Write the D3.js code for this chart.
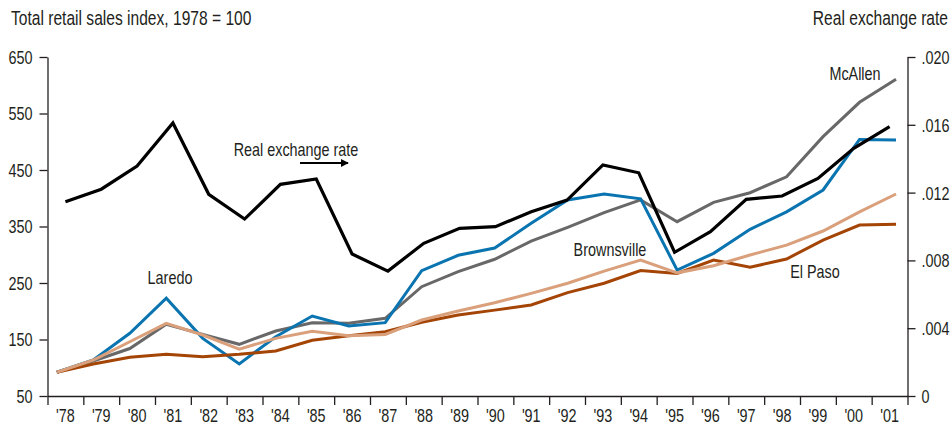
<!DOCTYPE html>
<html>
<head>
<meta charset="utf-8">
<script src="https://cdn.jsdelivr.net/npm/d3@7"></script>
<style>
    body { margin: 0; background: #fff; }
    text { font-family: "Liberation Sans", Arial, sans-serif; fill: #231f20; }
    .axis path, .axis line { stroke: #231f20; stroke-width: 1.3px; }
    .axis text { font-size: 18px; }
    .label { font-size: 18px; }
    .title { font-size: 19.5px; }
    /* condensed look: squeeze glyphs horizontally around an anchor */
    .narrow { transform-box: fill-box; transform: scaleX(0.8); transform-origin: 50% 50%; }
    .narrow.end { transform-origin: 100% 50%; }
    .narrow.start { transform-origin: 0% 50%; }
</style>
</head>
<body>
<div id="chart"></div>
<script>
// values
var years = d3.range(1978, 2002);
var yearLabels = ["'78", "'79", "'80", "'81", "'82", "'83", "'84", "'85", "'86", "'87", "'88", "'89",
    "'90", "'91", "'92", "'93", "'94", "'95", "'96", "'97", "'98", "'99", "'00", "'01"];
var leftTicks = [50, 150, 250, 350, 450, 550, 650];
var rightTicks = [0, .004, .008, .012, .016, .020];

var laredo = [92, 113.7, 161, 223, 152, 106.6, 155, 191.6, 174, 179.8, 271.8, 299, 312, 355.6, 397, 407.5,
    399, 273, 302.5, 345, 376, 414.6, 504, 503];
var mcallen = [92, 112, 134, 177, 159, 141.5, 165, 179.7, 178.6, 187.5, 243.5, 270, 292, 324, 348.5, 374.5,
    397, 358.5, 392.8, 409.8, 438, 509, 569.8, 610.5];
var brownsville = [92, 113.7, 146, 178.6, 158, 133, 152, 164.5, 156.7, 159, 184.5, 200.4, 215, 231.7, 249.5, 271,
    290.7, 268, 280.6, 299.6, 317, 342, 376, 407.5];
var elPaso = [92, 106.6, 118.4, 124, 119.6, 123.8, 129.6, 148.5, 156.7, 163.8, 180.4, 193.4, 202, 211, 233, 249.5,
    272, 267, 290.7, 277.8, 292.5, 326, 352.6, 354];
var exchange = [.01146, .01220, .01357, .01611, .01190, .01044, .01249, .01280, .00838, .00737, .00901, .00989,
    .00999, .01087, .01156, .01363, .01317, .00848, .00969, .01160, .01180, .01284, .01461, .01589];

var width = 952, height = 427;
var margin = {top: 57, right: 44.5, bottom: 31, left: 47.5};

var svg = d3.select("#chart").append("svg")
    .attr("width", width)
    .attr("height", height);

var x = d3.scaleBand()
    .domain(years)
    .range([margin.left, width - margin.right]);

// retail series sit slightly off the band centres in the original
var xRetail = d3.scaleLinear()
    .domain([1978, 2001])
    .range([x(1978) + x.bandwidth() * 0.26, x(2001) + x.bandwidth() * 0.68]);

var yLeft = d3.scaleLinear()
    .domain([50, 650])
    .range([height - margin.bottom, margin.top]);

var yRight = d3.scaleLinear()
    .domain([0, .020])
    .range([height - margin.bottom, margin.top]);

// axes
svg.append("g")
    .attr("class", "axis")
    .attr("transform", "translate(" + margin.left + ",0)")
    .call(d3.axisLeft(yLeft).tickValues(leftTicks).tickSize(8).tickSizeOuter(0).tickPadding(7))
    .selectAll("text").attr("dy", "0.36em").attr("class", "narrow end");

svg.append("g")
    .attr("class", "axis")
    .attr("transform", "translate(" + (width - margin.right) + ",0)")
    .call(d3.axisRight(yRight).tickValues(rightTicks).tickSize(8).tickSizeOuter(0).tickPadding(6)
        .tickFormat(function (d) { return d === 0 ? "0" : d3.format(".3f")(d).replace(/^0/, ""); }))
    .selectAll("text").attr("dy", "0.36em").attr("class", "narrow start");

var xEdges = d3.scaleLinear()
    .domain([1978, 2002])
    .range([x(1978), x(2001) + x.bandwidth()]);

svg.append("g")
    .attr("class", "axis")
    .attr("transform", "translate(0," + (height - margin.bottom) + ")")
    .call(d3.axisBottom(xEdges).tickValues(d3.range(1978, 2003)).tickSize(9).tickSizeOuter(0)
        .tickFormat(""));

svg.append("g")
    .attr("class", "axis")
    .attr("transform", "translate(0," + (height - margin.bottom) + ")")
    .call(d3.axisBottom(x).tickSize(0).tickPadding(13)
        .tickFormat(function (d, i) { return yearLabels[i]; }))
    .call(function (g) { g.select(".domain").remove(); })
    .selectAll("text").attr("class", "narrow");

// lines
var retail = [
    {name: "McAllen", values: mcallen, color: "#686868"},
    {name: "Laredo", values: laredo, color: "#0a74b0"},
    {name: "El Paso", values: elPaso, color: "#a44405"},
    {name: "Brownsville", values: brownsville, color: "#d9a07b"}
];

var retailLine = d3.line()
    .x(function (d, i) { return xRetail(years[i]); })
    .y(function (d) { return yLeft(d); });

svg.selectAll(".retail")
    .data(retail)
    .enter().append("path")
    .attr("class", "retail")
    .attr("fill", "none")
    .attr("stroke", function (d) { return d.color; })
    .attr("stroke-width", 3)
    .attr("d", function (d) { return retailLine(d.values); });

var rateLine = d3.line()
    .x(function (d, i) { return x(years[i]) + x.bandwidth() / 2; })
    .y(function (d) { return yRight(d); });

svg.append("path")
    .attr("fill", "none")
    .attr("stroke", "#000")
    .attr("stroke-width", 3.2)
    .attr("d", rateLine(exchange));

// titles
svg.append("text")
    .attr("class", "title narrow start")
    .attr("x", 11)
    .attr("y", 25)
    .text("Total retail sales index, 1978 = 100");

svg.append("text")
    .attr("class", "title narrow end")
    .attr("x", 948)
    .attr("y", 25)
    .attr("text-anchor", "end")
    .text("Real exchange rate");

// series labels
var notes = [
    {text: "Laredo", x: 170, y: 284},
    {text: "Brownsville", x: 610, y: 256},
    {text: "McAllen", x: 855, y: 80},
    {text: "El Paso", x: 815, y: 278},
    {text: "Real exchange rate", x: 296, y: 156}
];

svg.selectAll(".note")
    .data(notes)
    .enter().append("text")
    .attr("class", "label note narrow")
    .attr("x", function (d) { return d.x; })
    .attr("y", function (d) { return d.y; })
    .attr("text-anchor", "middle")
    .text(function (d) { return d.text; });

svg.append("defs").append("marker")
    .attr("id", "arrow")
    .attr("viewBox", "0 0 10 10")
    .attr("refX", 9)
    .attr("refY", 5)
    .attr("markerWidth", 4)
    .attr("markerHeight", 4)
    .attr("orient", "auto")
    .append("path")
    .attr("d", "M0,0L10,5L0,10z")
    .attr("fill", "#000");

svg.append("line")
    .attr("x1", 300)
    .attr("x2", 348)
    .attr("y1", 163)
    .attr("y2", 163)
    .attr("stroke", "#000")
    .attr("stroke-width", 2)
    .attr("marker-end", "url(#arrow)");
</script>
</body>
</html>
